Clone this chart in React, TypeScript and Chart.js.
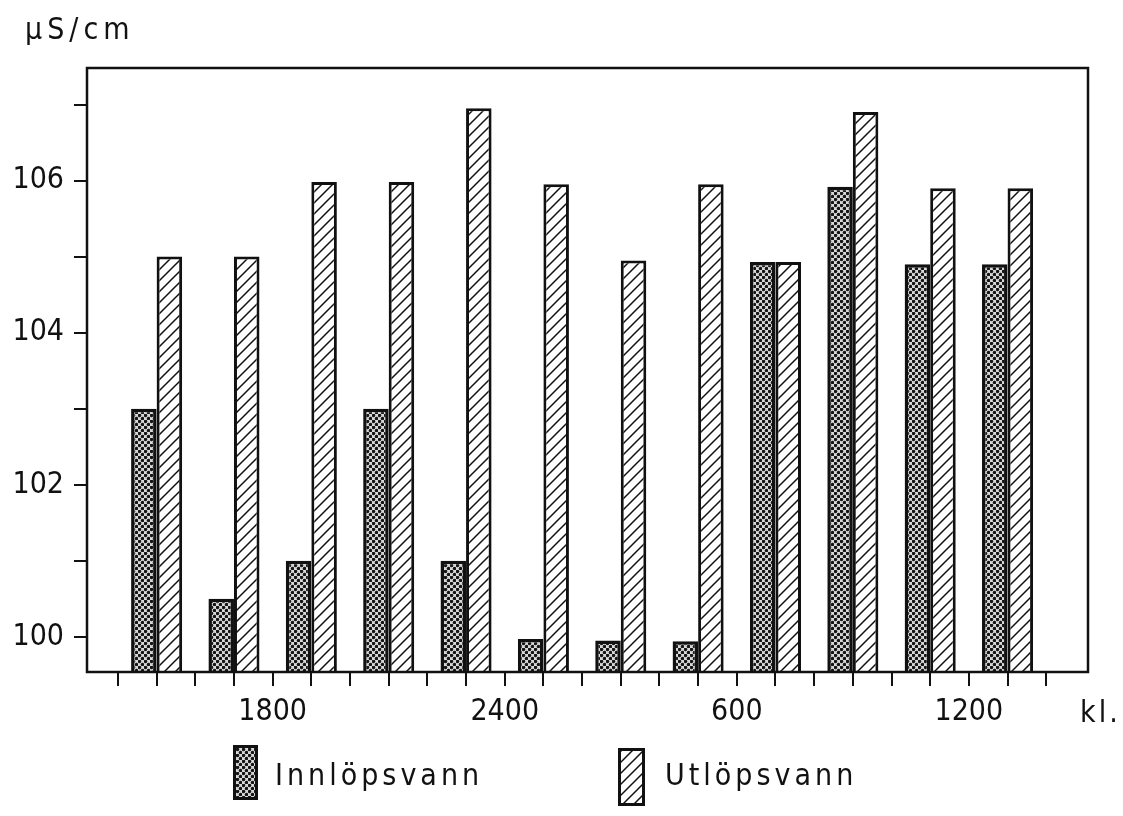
import React, { useEffect, useMemo, useRef } from 'react';
import { Chart, registerables } from 'chart.js';

Chart.register(...registerables);

// ---- data ----
const groupPositions = [0, 1, 2, 3, 4, 5, 6, 7, 8, 9, 10, 11];
const seriesNames = ['Innlöpsvann', 'Utlöpsvann'];
const innlopsvann = [103.0, 100.5, 101.0, 103.0, 101.0, 99.97, 99.95, 99.94, 104.93, 105.92, 104.9, 104.9];
const utlopsvann = [105.0, 105.0, 105.98, 105.98, 106.95, 105.95, 104.95, 105.95, 104.93, 106.9, 105.9, 105.9];

const xTickValues = [-0.5, 0, 0.5, 1, 1.5, 2, 2.5, 3, 3.5, 4, 4.5, 5, 5.5, 6, 6.5, 7, 7.5, 8, 8.5, 9, 9.5, 10, 10.5, 11, 11.5];
const xLabelValues = [1.5, 4.5, 7.5, 10.5];
const xLabels = ['1800', '2400', '600', '1200'];
const yTickValues = [100, 101, 102, 103, 104, 105, 106, 107];
const yLabelValues = [100, 102, 104, 106];
const yUnit = 'μS/cm';
const xUnit = 'kl.';

const X_MIN = -0.9;
const X_MAX = 12.04;
const Y_MIN = 99.537;
const Y_MAX = 107.48;

const FONT = '"DejaVu Sans Condensed", "Liberation Sans Narrow", "DejaVu Sans", sans-serif';
const INK = '#111111';

function makeHatchCanvas(): HTMLCanvasElement {
  const s = 11;
  const c = document.createElement('canvas');
  c.width = s;
  c.height = s;
  const g = c.getContext('2d')!;
  g.fillStyle = '#ffffff';
  g.fillRect(0, 0, s, s);
  g.strokeStyle = INK;
  g.lineWidth = 1.5;
  g.beginPath();
  g.moveTo(0, s);
  g.lineTo(s, 0);
  g.moveTo(-1, 1);
  g.lineTo(1, -1);
  g.moveTo(s - 1, s + 1);
  g.lineTo(s + 1, s - 1);
  g.stroke();
  return c;
}

function makeStippleCanvas(): HTMLCanvasElement {
  const s = 6;
  const c = document.createElement('canvas');
  c.width = s;
  c.height = s;
  const g = c.getContext('2d')!;
  g.fillStyle = '#d8d8d8';
  g.fillRect(0, 0, s, s);
  g.fillStyle = '#141414';
  g.beginPath();
  g.arc(1.5, 1.5, 1.75, 0, Math.PI * 2);
  g.fill();
  g.beginPath();
  g.arc(4.5, 4.5, 1.75, 0, Math.PI * 2);
  g.fill();
  return c;
}

const framePlugin = {
  id: 'frame',
  afterDatasetsDraw(chart: any) {
    const { ctx, chartArea: a } = chart;
    ctx.save();
    ctx.strokeStyle = INK;
    ctx.lineWidth = 2.5;
    ctx.strokeRect(a.left, a.top, a.right - a.left, a.bottom - a.top);
    ctx.restore();
  },
};

export default function App() {
  const canvasRef = useRef<HTMLCanvasElement | null>(null);

  const swatches = useMemo(() => {
    return {
      stipple: makeStippleCanvas().toDataURL(),
      hatch: makeHatchCanvas().toDataURL(),
    };
  }, []);

  useEffect(() => {
    document.body.style.margin = '0';
    const canvas = canvasRef.current;
    if (!canvas) return;
    const ctx = canvas.getContext('2d')!;
    const stipple = ctx.createPattern(makeStippleCanvas(), 'repeat');
    const hatch = ctx.createPattern(makeHatchCanvas(), 'repeat');

    const chart = new Chart(canvas, {
      type: 'bar',
      data: {
        datasets: [
          {
            label: seriesNames[0],
            data: groupPositions.map((x, i) => ({ x, y: innlopsvann[i] })),
            backgroundColor: stipple as any,
            borderColor: INK,
            borderWidth: 3.5,
            categoryPercentage: 1.32,
            barPercentage: 1.0,
          },
          {
            label: seriesNames[1],
            data: groupPositions.map((x, i) => ({ x, y: utlopsvann[i] })),
            backgroundColor: hatch as any,
            borderColor: INK,
            borderWidth: 3,
            categoryPercentage: 1.32,
            barPercentage: 1.0,
          },
        ],
      },
      options: {
        responsive: false,
        animation: false,
        devicePixelRatio: 1,
        layout: { padding: { left: 0, right: 35, top: 68, bottom: 0 } },
        plugins: {
          legend: { display: false },
          tooltip: { enabled: false },
          title: { display: false },
        },
        scales: {
          x: {
            type: 'linear',
            min: X_MIN,
            max: X_MAX,
            offset: false,
            afterBuildTicks: (s: any) => {
              s.ticks = xTickValues.map((v) => ({ value: v }));
            },
            afterFit: (s: any) => {
              s.height = 144;
            },
            grid: {
              display: true,
              offset: false,
              drawOnChartArea: false,
              drawTicks: true,
              tickLength: 14,
              color: INK,
              lineWidth: 2,
            },
            border: { display: false },
            ticks: {
              autoSkip: false,
              maxRotation: 0,
              minRotation: 0,
              padding: 8,
              color: INK,
              font: { family: FONT, size: 30 },
              callback: (v: any) => {
                const i = xLabelValues.indexOf(Number(v));
                return i >= 0 ? xLabels[i] : '';
              },
            },
          },
          y: {
            type: 'linear',
            min: Y_MIN,
            max: Y_MAX,
            beginAtZero: false,
            afterBuildTicks: (s: any) => {
              s.ticks = yTickValues.map((v) => ({ value: v }));
            },
            afterFit: (s: any) => {
              s.width = 87;
            },
            grid: {
              display: true,
              drawOnChartArea: false,
              drawTicks: true,
              tickLength: 13,
              color: INK,
              lineWidth: 2,
            },
            border: { display: false },
            ticks: {
              autoSkip: false,
              padding: 10,
              color: INK,
              font: { family: FONT, size: 30 },
              callback: (v: any) => (yLabelValues.indexOf(Number(v)) >= 0 ? String(v) : ''),
            },
          },
        },
      },
      plugins: [framePlugin],
    } as any);

    return () => {
      chart.destroy();
    };
  }, []);

  const textStyle: React.CSSProperties = {
    position: 'absolute',
    fontFamily: FONT,
    fontSize: 30,
    lineHeight: '30px',
    color: INK,
    whiteSpace: 'nowrap',
  };

  return (
    <div style={{ position: 'relative', width: 1123, height: 816, background: '#ffffff', overflow: 'hidden' }}>
      <canvas ref={canvasRef} width={1123} height={816} style={{ position: 'absolute', left: 0, top: 0 }} />
      <div style={{ ...textStyle, left: 25, top: 14, letterSpacing: '5px' }}>{yUnit}</div>
      <div style={{ ...textStyle, left: 1080, top: 697, letterSpacing: '3px' }}>{xUnit}</div>
      <div
        style={{
          position: 'absolute',
          left: 233,
          top: 745,
          width: 25,
          height: 55,
          boxSizing: 'border-box',
          border: `3px solid ${INK}`,
          backgroundImage: `url(${swatches.stipple})`,
        }}
      />
      <div style={{ ...textStyle, left: 275, top: 760, letterSpacing: '4px' }}>{seriesNames[0]}</div>
      <div
        style={{
          position: 'absolute',
          left: 618,
          top: 748,
          width: 27,
          height: 58,
          boxSizing: 'border-box',
          border: `3px solid ${INK}`,
          backgroundImage: `url(${swatches.hatch})`,
        }}
      />
      <div style={{ ...textStyle, left: 665, top: 760, letterSpacing: '4px' }}>{seriesNames[1]}</div>
    </div>
  );
}
